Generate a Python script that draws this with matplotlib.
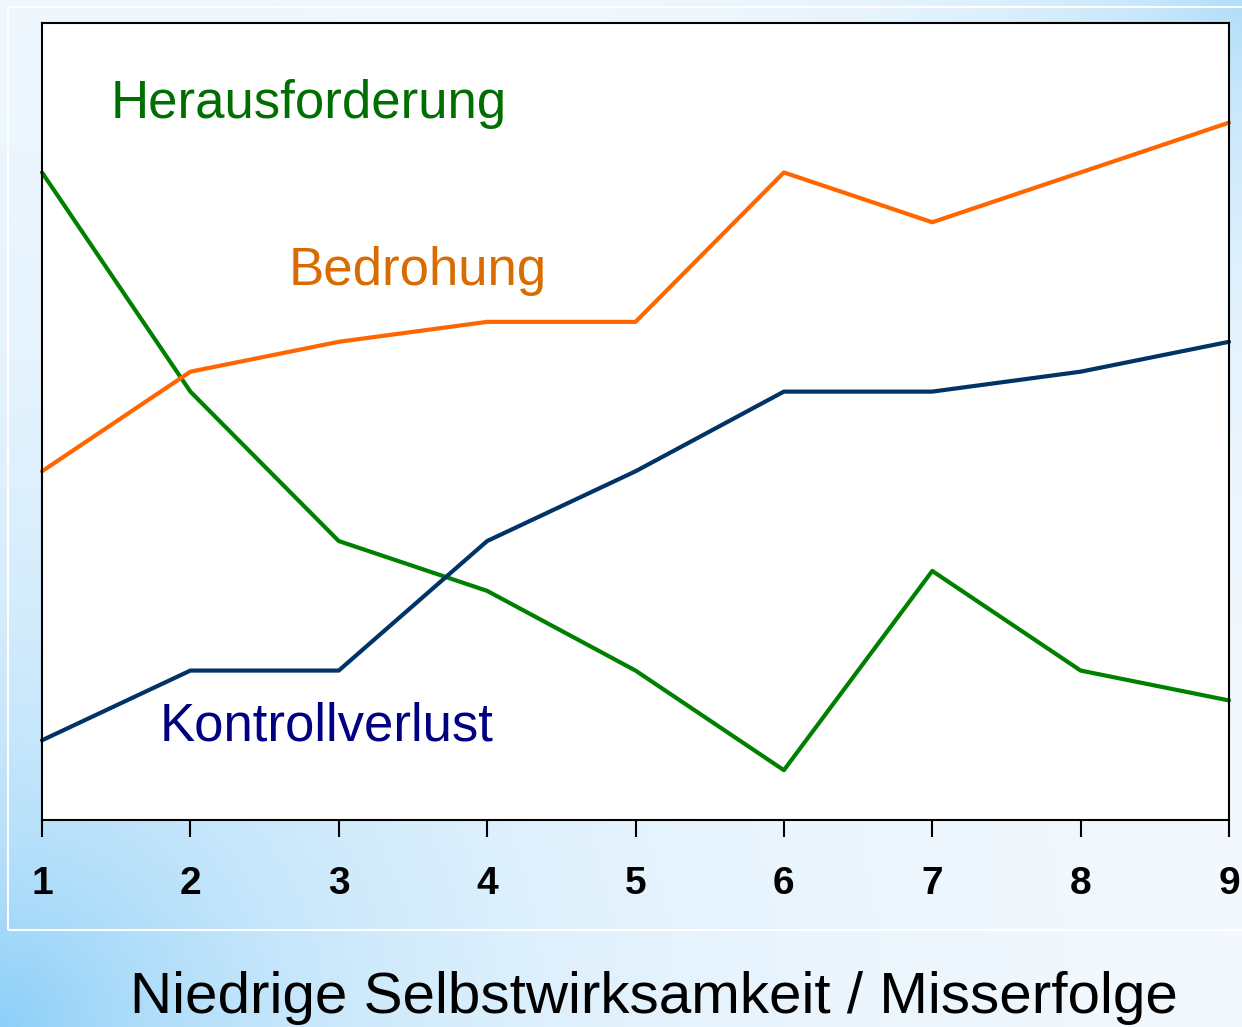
import numpy as np
import matplotlib
matplotlib.use("Agg")
import matplotlib.pyplot as plt
from matplotlib.patches import Rectangle

x = [1, 2, 3, 4, 5, 6, 7, 8, 9]
herausforderung = [6.5, 4.3, 2.8, 2.3, 1.5, 0.5, 2.5, 1.5, 1.2]
bedrohung = [3.5, 4.5, 4.8, 5.0, 5.0, 6.5, 6.0, 6.5, 7.0]
kontrollverlust = [0.8, 1.5, 1.5, 2.8, 3.5, 4.3, 4.3, 4.5, 4.8]
tick_labels = ["1", "2", "3", "4", "5", "6", "7", "8", "9"]

plt.rcParams['font.family'] = ['Liberation Sans', 'DejaVu Sans']

W, H = 1242, 1027
fig = plt.figure(figsize=(W / 100, H / 100), dpi=100)

# background gradient
bg = fig.add_axes([0, 0, 1, 1], zorder=0)
bg.set_axis_off()
u = np.linspace(0, 1, 400)
v = np.linspace(0, 1, 330)
U, V = np.meshgrid(u, v)  # V = 0 top
d1 = np.sqrt((U * 1.2) ** 2 + (V - 1) ** 2)
d2 = np.sqrt(((U - 1) * 1.2) ** 2 + V ** 2)
w = np.maximum(np.exp(-d1 / 0.36), 0.65 * np.exp(-d2 / 0.25))
white = np.array([246, 250, 254]) / 255
blue = np.array([140, 207, 248]) / 255
img = white[None, None, :] * (1 - w[..., None]) + blue[None, None, :] * w[..., None]
bg.imshow(img, extent=[0, 1, 0, 1], aspect='auto', origin='upper')
bg.set_xlim(0, 1)
bg.set_ylim(0, 1)
bg.add_patch(Rectangle((8 / W, 1 - 930 / H), 1.2, (930 - 7) / H,
                       fill=False, edgecolor='white', lw=1.5))

ax = fig.add_axes([42 / W, 1 - 820 / H, (1229 - 42) / W, (820 - 23) / H], zorder=1)
ax.set_facecolor('white')
ax.plot(x, herausforderung, color='#008000', lw=3, solid_capstyle='round', clip_on=False)
ax.plot(x, bedrohung, color='#ff6600', lw=3, solid_capstyle='round', clip_on=False)
ax.plot(x, kontrollverlust, color='#003366', lw=3, solid_capstyle='round', clip_on=False)

ax.set_xlim(1, 9)
ax.set_ylim(0, 8)
ax.set_yticks([])
ax.set_xticks(x)
ax.set_xticklabels(tick_labels, fontsize=28, fontweight='bold')
ax.tick_params(axis='x', direction='out', length=12, width=1.5, pad=21, colors='black')
for s in ax.spines.values():
    s.set_linewidth(1.5)
    s.set_color('black')

ax.text(1.465, 7.05, "Herausforderung", color='#006e00', fontsize=38, va='baseline', ha='left')
ax.text(2.66, 5.37, "Bedrohung", color='#d96c00', fontsize=38, va='baseline', ha='left')
ax.text(1.795, 0.80, "Kontrollverlust", color='#000080', fontsize=38, va='baseline', ha='left')

fig.text(654 / W, 1 - 1013 / H, "Niedrige Selbstwirksamkeit / Misserfolge",
         fontsize=42, ha='center', va='baseline', color='black')

fig.savefig("out.png", dpi=100)
